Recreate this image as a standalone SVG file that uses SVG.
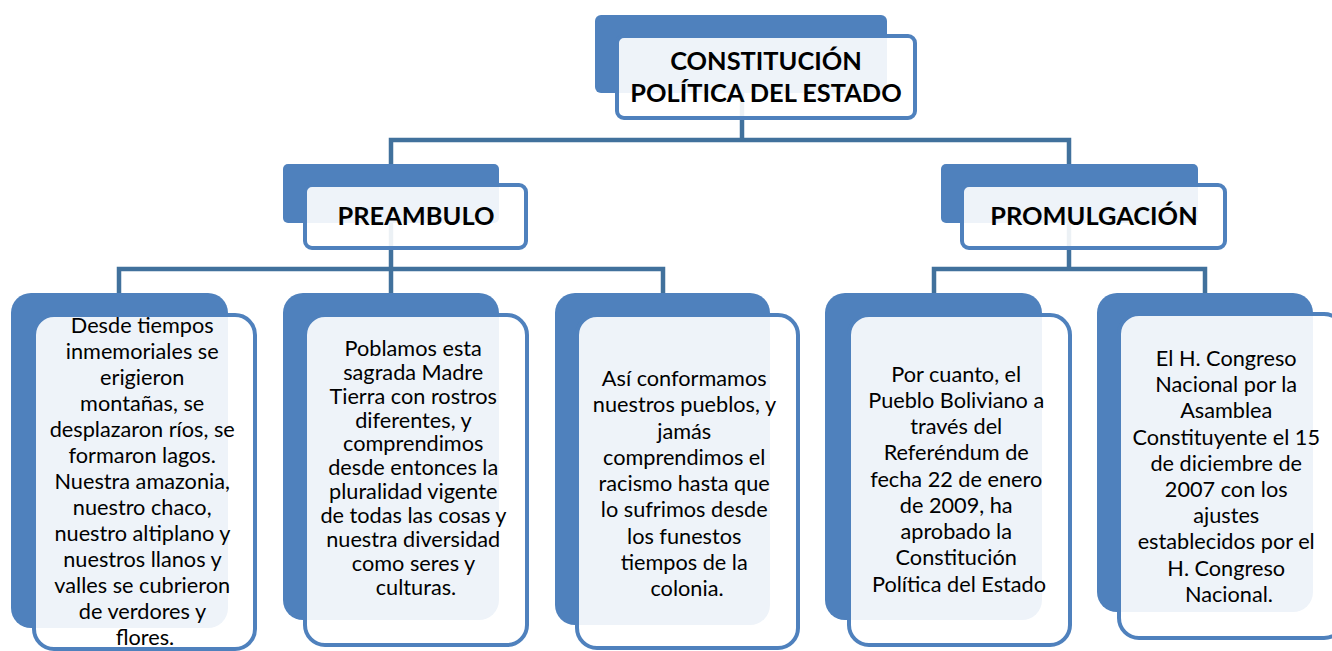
<svg xmlns="http://www.w3.org/2000/svg" width="1332" height="651" viewBox="0 0 1332 651">
<style>
.bg{fill:#ffffff}
.back{fill:#4f81bd}
.front{fill:#ffffff;fill-opacity:0.9;stroke:#4f81bd;stroke-width:4}
.conn{fill:none;stroke:#41719c;stroke-width:4.5}
.h{font-family:Lato,"Liberation Sans",sans-serif;font-weight:bold;font-size:25.4px;fill:#000;text-anchor:middle}
.t{font-family:Lato,"Liberation Sans",sans-serif;font-size:21.7px;fill:#000;text-anchor:middle}
</style>
<rect class="bg" x="0" y="0" width="1332" height="651"/>
<g id="connectors">
<path class="conn" d="M742,93 V140"/>
<path class="conn" d="M391,164 V140 H1069 V164"/>
<path class="conn" d="M391,223 V269"/>
<path class="conn" d="M119,293 V269 H663 V293"/>
<path class="conn" d="M391,269 V293"/>
<path class="conn" d="M1069,223 V269"/>
<path class="conn" d="M934,293 V269 H1205 V293"/>
</g>
<g id="node-constitucion">
<rect class="back" x="595" y="15" width="292" height="78" rx="6"/>
<rect class="front" x="617" y="36" width="298" height="82" rx="7"/>
<text class="h" x="766" y="70">CONSTITUCIÓN</text>
<text class="h" x="766" y="102">POLÍTICA DEL ESTADO</text>
</g>
<g id="node-preambulo">
<rect class="back" x="283" y="164" width="216" height="59" rx="5"/>
<rect class="front" x="305" y="185" width="221" height="63" rx="7"/>
<text class="h" x="416" y="225">PREAMBULO</text>
</g>
<g id="node-promulgacion">
<rect class="back" x="941" y="164" width="257" height="59" rx="5"/>
<rect class="front" x="962" y="185" width="263" height="63" rx="7"/>
<text class="h" x="1094" y="225">PROMULGACIÓN</text>
</g>
<g id="node-leaf1">
<rect class="back" x="11" y="293" width="217" height="335" rx="20"/>
<rect class="front" x="34" y="315" width="221" height="334" rx="20"/>
<text class="t" x="145" y="333.3">
<tspan x="145" dy="0">Desde tiempos</tspan>
<tspan x="145" dy="26">inmemoriales se</tspan>
<tspan x="145" dy="26">erigieron</tspan>
<tspan x="145" dy="26">montañas, se</tspan>
<tspan x="145" dy="26">desplazaron ríos, se</tspan>
<tspan x="145" dy="26">formaron lagos.</tspan>
<tspan x="145" dy="26">Nuestra amazonia,</tspan>
<tspan x="145" dy="26">nuestro chaco,</tspan>
<tspan x="145" dy="26">nuestro altiplano y</tspan>
<tspan x="145" dy="26">nuestros llanos y</tspan>
<tspan x="145" dy="26">valles se cubrieron</tspan>
<tspan x="145" dy="26">de verdores y</tspan>
<tspan x="145" dy="26">flores.</tspan>
</text>
</g>
<g id="node-leaf2">
<rect class="back" x="283" y="293" width="216" height="327" rx="20"/>
<rect class="front" x="305" y="315" width="222" height="330" rx="20"/>
<text class="t" x="416" y="356">
<tspan x="416" dy="0">Poblamos esta</tspan>
<tspan x="416" dy="23.85">sagrada Madre</tspan>
<tspan x="416" dy="23.85">Tierra con rostros</tspan>
<tspan x="416" dy="23.85">diferentes, y</tspan>
<tspan x="416" dy="23.85">comprendimos</tspan>
<tspan x="416" dy="23.85">desde entonces la</tspan>
<tspan x="416" dy="23.85">pluralidad vigente</tspan>
<tspan x="416" dy="23.85">de todas las cosas y</tspan>
<tspan x="416" dy="23.85">nuestra diversidad</tspan>
<tspan x="416" dy="23.85">como seres y</tspan>
<tspan x="416" dy="23.85">culturas.</tspan>
</text>
</g>
<g id="node-leaf3">
<rect class="back" x="555" y="293" width="215" height="332" rx="20"/>
<rect class="front" x="577" y="315" width="221" height="333" rx="20"/>
<text class="t" x="687" y="386">
<tspan x="687" dy="0">Así conformamos</tspan>
<tspan x="687" dy="26.25">nuestros pueblos, y</tspan>
<tspan x="687" dy="26.25">jamás</tspan>
<tspan x="687" dy="26.25">comprendimos el</tspan>
<tspan x="687" dy="26.25">racismo hasta que</tspan>
<tspan x="687" dy="26.25">lo sufrimos desde</tspan>
<tspan x="687" dy="26.25">los funestos</tspan>
<tspan x="687" dy="26.25">tiempos de la</tspan>
<tspan x="687" dy="26.25">colonia.</tspan>
</text>
</g>
<g id="node-leaf4">
<rect class="back" x="825" y="293" width="217" height="327" rx="20"/>
<rect class="front" x="849" y="315" width="221" height="330" rx="20"/>
<text class="t" x="959" y="381.7">
<tspan x="959" dy="0">Por cuanto, el</tspan>
<tspan x="959" dy="26.25">Pueblo Boliviano a</tspan>
<tspan x="959" dy="26.25">través del</tspan>
<tspan x="959" dy="26.25">Referéndum de</tspan>
<tspan x="959" dy="26.25">fecha 22 de enero</tspan>
<tspan x="959" dy="26.25">de 2009, ha</tspan>
<tspan x="959" dy="26.25">aprobado la</tspan>
<tspan x="959" dy="26.25">Constitución</tspan>
<tspan x="959" dy="26.25">Política del Estado</tspan>
</text>
</g>
<g id="node-leaf5">
<rect class="back" x="1097" y="293" width="216" height="319" rx="20"/>
<rect class="front" x="1119" y="314" width="225" height="324" rx="20"/>
<text class="t" x="1229" y="366">
<tspan x="1229" dy="0">El H. Congreso</tspan>
<tspan x="1229" dy="26.2">Nacional por la</tspan>
<tspan x="1229" dy="26.2">Asamblea</tspan>
<tspan x="1229" dy="26.2">Constituyente el 15</tspan>
<tspan x="1229" dy="26.2">de diciembre de</tspan>
<tspan x="1229" dy="26.2">2007 con los</tspan>
<tspan x="1229" dy="26.2">ajustes</tspan>
<tspan x="1229" dy="26.2">establecidos por el</tspan>
<tspan x="1229" dy="26.2">H. Congreso</tspan>
<tspan x="1229" dy="26.2">Nacional.</tspan>
</text>
</g>
</svg>
